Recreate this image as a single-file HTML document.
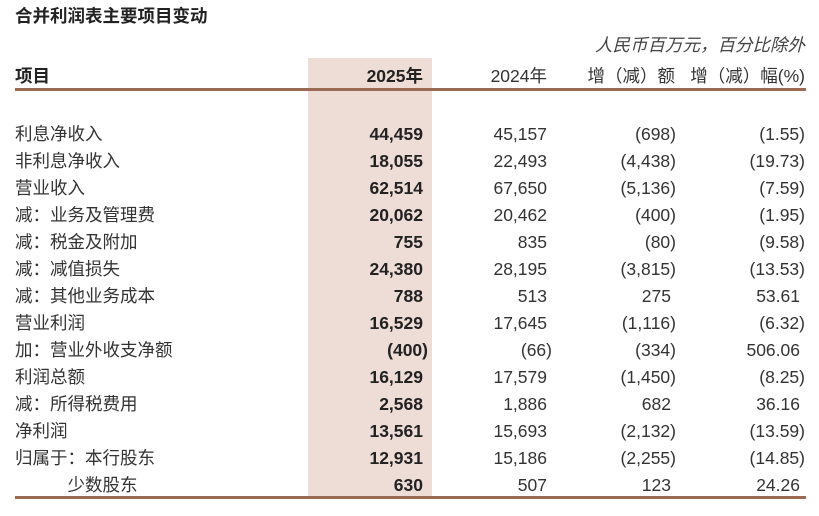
<!DOCTYPE html>
<html><head><meta charset="utf-8"><style>
body{margin:0;width:819px;height:516px;background:#fff;position:relative;overflow:hidden;font-family:"Liberation Sans","Noto Sans CJK SC",sans-serif;color:#333;}
.a{position:absolute;white-space:nowrap;line-height:20px;font-size:17.5px;}
.r{text-align:right;}
.p{margin-right:-5px}
b{color:#222}
</style></head><body>
<div style="position:absolute;left:308px;top:58px;width:124px;height:440px;background:#eeddd7"></div>
<div class="a" style="left:15px;top:6px;font-weight:bold;color:#222">合并利润表主要项目变动</div>
<div class="a" style="right:14px;top:35px;font-style:italic;color:#444">人民币百万元，百分比除外</div>
<div class="a" style="left:15px;top:66px;font-weight:bold;color:#222">项目</div>
<div class="a r" style="right:396px;top:66px;font-weight:bold;color:#222">2025年</div>
<div class="a r" style="right:272px;top:66px">2024年</div>
<div class="a r" style="right:144px;top:66px">增（减）额</div>
<div class="a r" style="right:14px;top:66px">增（减）幅(%)</div>
<div style="position:absolute;left:15px;top:88px;width:791px;height:3px;background:#9b6a55"></div>
<div style="position:absolute;left:15px;top:496px;width:791px;height:3px;background:#9b6a55"></div>
<div id="rows"></div>
<script>
const d=[["利息净收入","44,459","45,157","(698)","(1.55)"],["非利息净收入","18,055","22,493","(4,438)","(19.73)"],["营业收入","62,514","67,650","(5,136)","(7.59)"],["减：业务及管理费","20,062","20,462","(400)","(1.95)"],["减：税金及附加","755","835","(80)","(9.58)"],["减：减值损失","24,380","28,195","(3,815)","(13.53)"],["减：其他业务成本","788","513","275","53.61"],["营业利润","16,529","17,645","(1,116)","(6.32)"],["加：营业外收支净额","(400)","(66)","(334)","506.06"],["利润总额","16,129","17,579","(1,450)","(8.25)"],["减：所得税费用","2,568","1,886","682","36.16"],["净利润","13,561","15,693","(2,132)","(13.59)"],["归属于：本行股东","12,931","15,186","(2,255)","(14.85)"],["　　　少数股东","630","507","123","24.26"]];
const rt=[396,272,148,19];
let h="";
const f=v=>v.endsWith(")")?v.slice(0,-1)+'<span class="p">)</span>':v;
d.forEach((r,i)=>{const t=124+i*27;
h+=`<div class="a" style="left:15px;top:${t}px">${r[0]}</div>`;
for(let j=1;j<5;j++){let v=f(r[j]);if(j==1)v="<b>"+v+"</b>";
h+=`<div class="a r" style="right:${rt[j-1]}px;top:${t}px">${v}</div>`;}});
document.getElementById("rows").innerHTML=h;
</script>
</body></html>
